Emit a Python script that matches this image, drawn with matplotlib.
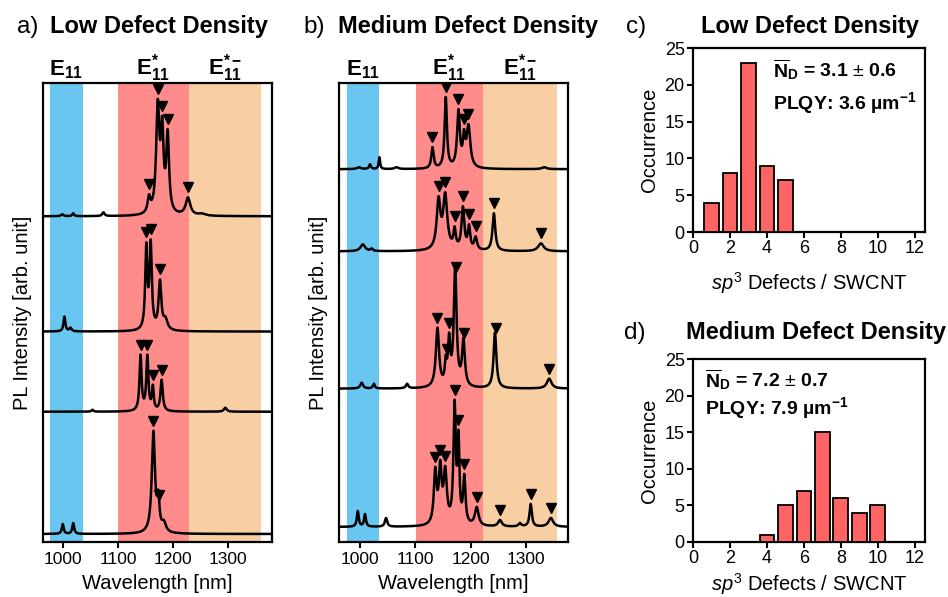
import numpy as np
import matplotlib
matplotlib.use("Agg")
import matplotlib.pyplot as plt

plt.rcParams['font.family'] = ['Liberation Sans', 'DejaVu Sans']
plt.rcParams['mathtext.fontset'] = 'custom'
plt.rcParams['mathtext.rm'] = 'Liberation Sans'
plt.rcParams['mathtext.it'] = 'Liberation Sans:italic'
plt.rcParams['mathtext.bf'] = 'Liberation Sans:bold'

# ---------------- data ----------------
wavelength_ticks = [1000, 1100, 1200, 1300]
band_e11 = (975, 1035)
band_estar = (1100, 1228)
band_estar_minus = (1228, 1360)
band_e11_b = (976, 1034)
band_estar_b = (1101, 1222)
band_estar_minus_b = (1222, 1356)

# Panel a: low defect density spectra (top to bottom); peak centre [nm], peak height, FWHM [nm]
a1_offset = 325
a1_centers = [998, 1018, 1073, 1156, 1172, 1180, 1190, 1227, 1252]
a1_heights = [2, 3, 4, 22, 117, 100, 87, 19, 3]
a1_widths = [5, 4, 5, 6, 7, 6, 6, 10, 15]
a1_marks = [1156, 1172, 1180, 1190, 1227]

a2_offset = 210
a2_centers = [1002, 1013, 1151, 1159, 1176, 1186]
a2_heights = [15, 4, 89, 92, 52, 15]
a2_widths = [4, 5, 4.5, 5, 6, 9]
a2_marks = [1151, 1159, 1176]

a3_offset = 130
a3_centers = [1053, 1140.6, 1153, 1163, 1179, 1295]
a3_heights = [2, 57, 57, 27, 32, 4]
a3_widths = [4, 4.5, 4.5, 4, 5, 6]
a3_marks = [1140.6, 1153, 1163, 1179]

a4_offset = 8
a4_centers = [999, 1018, 1164, 1173, 1183]
a4_heights = [10, 11, 103, 44, 14]
a4_widths = [4, 4, 7, 5, 9]
a4_marks = [1164, 1175]

# Panel b: medium defect density spectra
b1_offset = 372
b1_centers = [998, 1018, 1035, 1066, 1131, 1155, 1178, 1188, 1196, 1333]
b1_heights = [2, 5, 12, 2, 22, 72, 60, 40, 45, 2]
b1_widths = [8, 4, 3, 8, 5, 5, 6, 5, 8, 10]
b1_marks = [1131, 1155, 1178, 1188, 1196]

b2_offset = 290
b2_centers = [1005, 1021, 1142, 1154, 1171, 1186, 1197, 1209, 1242, 1327]
b2_heights = [7, 3, 55, 59, 25, 45, 27, 15, 38, 8]
b2_widths = [10, 5, 8, 9, 5, 6, 5, 6, 6, 12]
b2_marks = [1142, 1154, 1171, 1186, 1197, 1209, 1242, 1327]

b3_offset = 153
b3_centers = [1003, 1025, 1085, 1140, 1155, 1161, 1172, 1187, 1244, 1342]
b3_heights = [6, 5, 5, 61, 34, 56, 123, 51, 56, 10]
b3_widths = [6, 4, 5, 7, 4, 5, 6, 6, 6, 10]
b3_marks = [1140, 1157, 1161, 1173, 1188, 1245, 1341]

b4_offset = 15
b4_centers = [996, 1009, 1047, 1136, 1145, 1154, 1171, 1178, 1188.5, 1211, 1253, 1289, 1308.5, 1345]
b4_heights = [16, 13, 9, 60, 67, 61, 127, 97, 53, 20, 7, 4, 23, 9]
b4_widths = [4, 4, 5, 6, 6, 7, 5, 4, 5, 8, 8, 6, 5, 10]
b4_marks = [1136, 1145, 1154, 1171, 1178, 1188.5, 1211, 1253, 1308.5, 1345]

# Histograms
defects_low = [1, 2, 3, 4, 5]
counts_low = [4, 8, 23, 9, 7]
defects_med = [4, 5, 6, 7, 8, 9, 10]
counts_med = [1, 5, 7, 15, 6, 4, 5]

# ---------------- helpers ----------------
COL_BLUE = '#68C6F0'
COL_RED = '#FF8B8B'
COL_ORANGE = '#F8CEA3'
COL_BAR = '#FF6464'


def lorentz(x, c, w):
    return 1.0 / (1.0 + ((x - c) / (w / 2.0)) ** 2)


def build_spectrum(x, centers, heights, widths):
    c = np.asarray(centers, float)
    h = np.asarray(heights, float)
    w = np.asarray(widths, float)
    M = np.array([[lorentz(ci, cj, wj) for cj, wj in zip(c, w)] for ci in c])
    amps = np.clip(np.linalg.solve(M, h), 0, None)
    y = np.zeros_like(x)
    for cj, wj, aj in zip(c, w, amps):
        y += aj * lorentz(x, cj, wj)
    return y


fig = plt.figure(figsize=(9.48, 5.97), dpi=100)
W, H = 948.0, 597.0


def ax_rect(l, t, r, b):
    return [l / W, 1 - b / H, (r - l) / W, (b - t) / H]


x = np.linspace(955, 1385, 3000)


def spectra_panel(rect, xlim, bands, specs):
    ax = fig.add_axes(rect)
    for (lo, hi), col in zip(bands, [COL_BLUE, COL_RED, COL_ORANGE]):
        ax.axvspan(lo, hi, color=col, lw=0, zorder=0)
    for off, cen, hei, wid, marks in specs:
        y = build_spectrum(x, cen, hei, wid) + off
        ax.plot(x, y, color='black', lw=1.8, zorder=3)
        ym = build_spectrum(np.asarray(marks, float), cen, hei, wid) + off
        ax.plot(marks, ym + 10, linestyle='none', marker='v', color='black',
                markersize=7.5, zorder=4)
    ax.set_xlim(*xlim)
    ax.set_ylim(0, 458)
    ax.set_yticks([])
    ax.set_xticks(wavelength_ticks)
    ax.tick_params(axis='x', direction='out', length=4, width=1.5, labelsize=12.5, pad=3)
    for s in ax.spines.values():
        s.set_linewidth(1.6)
    ax.set_xlabel('Wavelength [nm]', fontsize=14.5, labelpad=5)
    ax.set_ylabel('PL Intensity [arb. unit]', fontsize=14.5, labelpad=8)
    return ax


axa = spectra_panel(ax_rect(43, 83, 272, 542), (963, 1380),
                    [band_e11, band_estar, band_estar_minus],
                    [(a1_offset, a1_centers, a1_heights, a1_widths, a1_marks),
                     (a2_offset, a2_centers, a2_heights, a2_widths, a2_marks),
                     (a3_offset, a3_centers, a3_heights, a3_widths, a3_marks),
                     (a4_offset, a4_centers, a4_heights, a4_widths, a4_marks)])
axb = spectra_panel(ax_rect(339, 83, 568, 542), (962, 1376),
                    [band_e11_b, band_estar_b, band_estar_minus_b],
                    [(b1_offset, b1_centers, b1_heights, b1_widths, b1_marks),
                     (b2_offset, b2_centers, b2_heights, b2_widths, b2_marks),
                     (b3_offset, b3_centers, b3_heights, b3_widths, b3_marks),
                     (b4_offset, b4_centers, b4_heights, b4_widths, b4_marks)])

# band labels above the panels
labels = [r'$\mathbf{E}_{\mathbf{11}}$', r'$\mathbf{E}_{\mathbf{11}}^{\mathbf{*}}$',
          r'$\mathbf{E}_{\mathbf{11}}^{\mathbf{*-}}$']
for ax, bands in [(axa, [band_e11, band_estar, band_estar_minus]),
                  (axb, [band_e11_b, band_estar_b, band_estar_minus_b])]:
    for (lo, hi), lab in zip(bands, labels):
        ax.text((lo + hi) / 2, 1.0 + 8 / 459, lab, transform=ax.get_xaxis_transform(),
                ha='center', va='baseline', fontsize=16, clip_on=False)

# panel titles
def ftxt(px, py, s, **kw):
    fig.text(px / W, 1 - py / H, s, **kw)

ftxt(17, 27, 'a)', fontsize=17.5, va='center', ha='left')
ftxt(50, 27, 'Low Defect Density', fontsize=17, fontweight='bold', va='center', ha='left')
ftxt(303, 27, 'b)', fontsize=17.5, va='center', ha='left')
ftxt(338, 27, 'Medium Defect Density', fontsize=17, fontweight='bold', va='center', ha='left')
ftxt(626, 27, 'c)', fontsize=17.5, va='center', ha='left')
ftxt(810, 27, 'Low Defect Density', fontsize=17, fontweight='bold', va='center', ha='center')
ftxt(624, 333, 'd)', fontsize=17.5, va='center', ha='left')
ftxt(816, 333, 'Medium Defect Density', fontsize=17, fontweight='bold', va='center', ha='center')


def hist_panel(rect, xs, cs, ann1, ann2, annx, anny1, anny2, xpad):
    ax = fig.add_axes(rect)
    ax.bar(xs, cs, width=0.8, color=COL_BAR, edgecolor='black', linewidth=1.3, zorder=3)
    ax.set_xlim(0, 12.55)
    ax.set_ylim(0, 25)
    ax.set_xticks(range(0, 13, 2))
    ax.set_yticks(range(0, 26, 5))
    ax.tick_params(direction='out', length=4, width=1.5, labelsize=13, pad=2)
    for s in ax.spines.values():
        s.set_linewidth(1.6)
    ax.set_ylabel('Occurrence', fontsize=14.5, labelpad=4)
    ax.set_xlabel(r'$\mathit{sp}^{3}$ Defects / SWCNT', fontsize=14.5, labelpad=xpad)
    ftxt(annx, anny1, ann1, fontsize=14, fontweight='bold', va='center', ha='left')
    ftxt(annx, anny2, ann2, fontsize=14, fontweight='bold', va='center', ha='left')
    return ax


hist_panel(ax_rect(693, 48, 925, 232), defects_low, counts_low,
           r'$\overline{\mathbf{N}}_{\mathbf{D}}$ = 3.1 $\pm$ 0.6',
           r'PLQY: 3.6 µm$^{\mathbf{-1}}$', 773, 70, 103, 9)
hist_panel(ax_rect(693, 359, 925, 542), defects_med, counts_med,
           r'$\overline{\mathbf{N}}_{\mathbf{D}}$ = 7.2 $\pm$ 0.7',
           r'PLQY: 7.9 µm$^{\mathbf{-1}}$', 705, 380, 408, 3)

fig.savefig('out.png', dpi=100)
